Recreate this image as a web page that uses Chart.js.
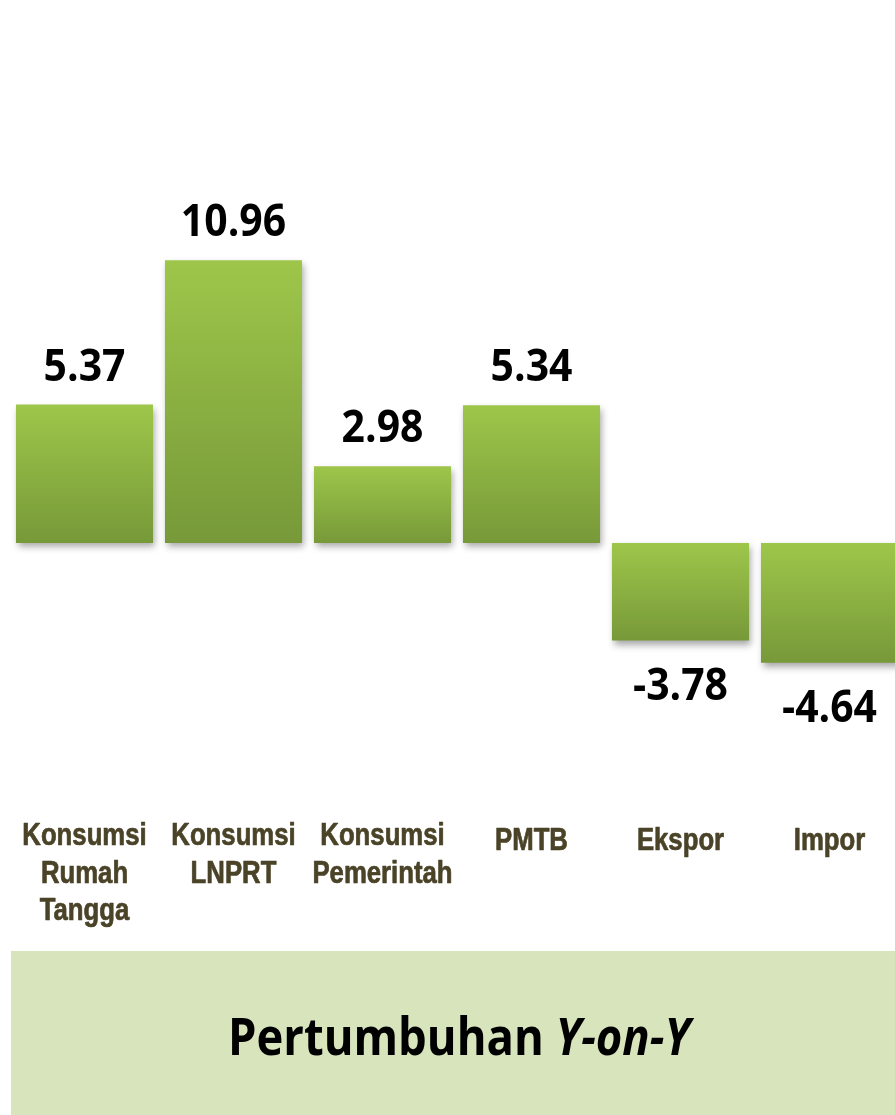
<!DOCTYPE html>
<html><head><meta charset="utf-8">
<script src="https://cdn.jsdelivr.net/npm/chart.js@4/dist/chart.umd.min.js"></script>
<style>
html,body{margin:0;padding:0;background:#fff;overflow:hidden;width:895px;height:1115px}
#wrap{position:absolute;left:0;top:0;width:905px;height:1115px}
</style></head>
<body><div id="wrap"><canvas id="c" width="905" height="1115"></canvas></div>
<script>
const categories = [["Konsumsi","Rumah","Tangga"],["Konsumsi","LNPRT"],["Konsumsi","Pemerintah"],["PMTB"],["Ekspor"],["Impor"]];
const growthValues = [5.37, 10.96, 2.98, 5.34, -3.78, -4.64];
const valueLabels = ["5.37","10.96","2.98","5.34","-3.78","-4.64"];
const titleMain = "Pertumbuhan ";
const titleItalic = "Y-on-Y";

function barGradient(ctx){
  const chart = ctx.chart;
  const ys = chart.scales.y;
  if (!ys || !chart.chartArea) return '#8cb043';
  const v = growthValues[ctx.dataIndex];
  const top = ys.getPixelForValue(Math.max(v,0));
  const bot = ys.getPixelForValue(Math.min(v,0));
  const g = chart.ctx.createLinearGradient(0, top, 0, bot);
  g.addColorStop(0, '#9ec64a');
  g.addColorStop(1, '#779939');
  return g;
}

const decor = {
  id:'decor',
  beforeDatasetsDraw(chart){
    const c = chart.ctx;
    c.save();
    c.shadowColor = 'rgba(0,0,0,0.35)';
    c.shadowBlur = 7;
    c.shadowOffsetX = 2;
    c.shadowOffsetY = 4;
  },
  afterDatasetsDraw(chart){
    const c = chart.ctx;
    c.restore();
    const meta = chart.getDatasetMeta(0);
    // value labels
    c.save();
    c.fillStyle = '#000';
    c.font = 'bold 44px "Open Sans"';
    c.textAlign = 'center';
    c.textBaseline = 'alphabetic';
    meta.data.forEach((bar, i) => {
      const v = growthValues[i];
      const y = v >= 0 ? bar.y - 24 : bar.y + 59;
      c.save();
      c.translate(bar.x, y);
      c.scale(0.93, 1);
      c.fillText(valueLabels[i], 0, 0);
      c.restore();
    });
    // category labels
    c.fillStyle = '#4a4328';
    c.strokeStyle = '#4a4328';
    c.lineWidth = 0.7;
    c.lineJoin = 'round';
    c.font = 'bold 31px "Liberation Sans"';
    const xs = chart.scales.x;
    categories.forEach((lines, i) => {
      const x = xs.getPixelForValue(i);
      const y0 = lines.length > 1 ? 845 : 850;
      lines.forEach((ln, j) => {
        c.save();
        c.translate(x, y0 + j * 37.5);
        c.scale(0.83, 1);
        c.fillText(ln, 0, 0);
        c.strokeText(ln, 0, 0);
        c.restore();
      });
    });
    // title box
    c.fillStyle = '#d8e4bc';
    c.fillRect(11, 951, 905 - 11, 1115 - 951);
    c.fillStyle = '#000';
    c.font = 'bold 52px "Open Sans"';
    c.textAlign = 'left';
    const w1 = c.measureText(titleMain).width;
    c.font = 'italic bold 52px "Open Sans"';
    const w2 = c.measureText(titleItalic).width;
    const target = 462;
    const s = target / (w1 + w2);
    c.save();
    c.translate(459 - target / 2, 1055);
    c.scale(s, 1);
    c.font = 'bold 52px "Open Sans"';
    c.fillText(titleMain, 0, 0);
    c.font = 'italic bold 52px "Open Sans"';
    c.fillText(titleItalic, w1, 0);
    c.restore();
    c.restore();
  }
};

new Chart(document.getElementById('c'), {
  type:'bar',
  data:{
    labels: categories.map(l => l.join(' ')),
    datasets:[{
      data: growthValues,
      backgroundColor: barGradient,
      borderWidth: 0,
      barPercentage: 0.92,
      categoryPercentage: 1.0
    }]
  },
  options:{
    responsive:false,
    animation:false,
    events:[],
    layout:{padding:{left:10,right:1,top:0,bottom:341}},
    plugins:{legend:{display:false},tooltip:{enabled:false}},
    scales:{
      x:{display:false},
      y:{display:false,min:-8.95,max:21.05}
    }
  },
  plugins:[decor]
});
</script></body></html>
